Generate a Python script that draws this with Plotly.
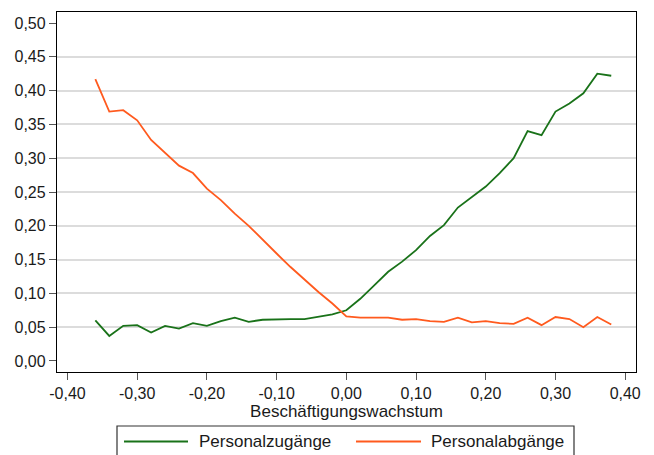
import plotly.graph_objects as go

x_vals = [-0.36, -0.34, -0.32, -0.30, -0.28, -0.26, -0.24, -0.22, -0.20, -0.18,
          -0.16, -0.14, -0.12, -0.10, -0.08, -0.06, -0.04, -0.02, 0.00, 0.02,
          0.04, 0.06, 0.08, 0.10, 0.12, 0.14, 0.16, 0.18, 0.20, 0.22,
          0.24, 0.26, 0.28, 0.30, 0.32, 0.34, 0.36, 0.38]

zugaenge = [0.060, 0.037, 0.052, 0.053, 0.042, 0.052, 0.048, 0.056, 0.052, 0.059,
            0.064, 0.058, 0.061, 0.062, 0.062, 0.062, 0.065, 0.069, 0.075, 0.092,
            0.112, 0.132, 0.147, 0.164, 0.185, 0.201, 0.227, 0.242, 0.258, 0.278,
            0.300, 0.340, 0.334, 0.369, 0.381, 0.396, 0.425, 0.422]

abgaenge = [0.417, 0.369, 0.371, 0.356, 0.327, 0.308, 0.289, 0.278, 0.255, 0.238,
            0.218, 0.200, 0.179, 0.159, 0.139, 0.120, 0.102, 0.085, 0.066, 0.064,
            0.064, 0.064, 0.061, 0.062, 0.059, 0.058, 0.064, 0.057, 0.059, 0.056,
            0.055, 0.064, 0.053, 0.065, 0.062, 0.050, 0.065, 0.054]

series_names = ["Personalzugänge", "Personalabgänge"]
series_colors = ["#197219", "#ff5a1e"]

x_tickvals = [-0.40, -0.30, -0.20, -0.10, 0.00, 0.10, 0.20, 0.30, 0.40]
x_ticktext = ["-0,40", "-0,30", "-0,20", "-0,10", "0,00", "0,10", "0,20", "0,30", "0,40"]
y_tickvals = [0.00, 0.05, 0.10, 0.15, 0.20, 0.25, 0.30, 0.35, 0.40, 0.45, 0.50]
y_ticktext = ["0,00", "0,05", "0,10", "0,15", "0,20", "0,25", "0,30", "0,35", "0,40", "0,45", "0,50"]
y_gridvals = [0.05, 0.10, 0.15, 0.20, 0.25, 0.30, 0.35, 0.40, 0.45]
x_title = "Beschäftigungswachstum"

FONT = "Liberation Sans, Arial, sans-serif"
FS = 16
FS_BIG = 17
x_range = [-0.415, 0.4155]
y_range = [-0.0163, 0.5163]

fig = go.Figure()
for name, ys, col in zip(series_names, [zugaenge, abgaenge], series_colors):
    fig.add_trace(go.Scatter(x=x_vals, y=ys, mode="lines", name=name,
                             line=dict(color=col, width=1.8),
                             showlegend=False))

# The page body has an 8px margin: the figure is sized so that it ends at the window edge.
fig.update_layout(
    width=646, height=447, autosize=False,
    margin=dict(l=49, r=18, t=4, b=83),
    paper_bgcolor="white", plot_bgcolor="white",
    font=dict(family=FONT, size=FS, color="#1a1a1a"),
    xaxis=dict(range=x_range, tickvals=x_tickvals, ticktext=x_ticktext,
               showgrid=False, zeroline=False, showline=True, mirror=True,
               linecolor="black", linewidth=1.3, ticks="outside", ticklen=7,
               tickcolor="#555", tickwidth=1.2,
               title=dict(text=x_title, font=dict(size=FS_BIG), standoff=2)),
    yaxis=dict(range=y_range, tickvals=y_tickvals, ticktext=y_ticktext,
               showgrid=False, zeroline=False, showline=True, mirror=True,
               linecolor="black", linewidth=1.3, ticks="outside", ticklen=7,
               tickcolor="#555", tickwidth=1.2,
               minor=dict(tickmode="array", tickvals=y_gridvals, showgrid=True,
                          gridcolor="#dcdcdc", gridwidth=1.6, ticks="")),
)

# legend drawn as a box below the plot (page-pixel positions converted to paper units)
x0p, x1p = 57.0, 636.0
y0p, y1p = 12.0, 372.0
def px_x(p):
    return (p - x0p) / (x1p - x0p)
def px_y(p):
    return (y1p - p) / (y1p - y0p)

fig.add_shape(type="rect", xref="paper", yref="paper",
              x0=px_x(117), x1=px_x(574), y0=px_y(426), y1=px_y(470),
              line=dict(color="#333", width=1.2), fillcolor="white", layer="above")
legend_pos = [(124, 188, 197), (356, 421, 429)]
for (lx0, lx1, tx), name, col in zip(legend_pos, series_names, series_colors):
    fig.add_shape(type="line", xref="paper", yref="paper",
                  x0=px_x(lx0), x1=px_x(lx1), y0=px_y(441.5), y1=px_y(441.5),
                  line=dict(color=col, width=2))
    fig.add_annotation(xref="paper", yref="paper", x=px_x(tx), y=px_y(441.5),
                       text=name, showarrow=False, xanchor="left", yanchor="middle",
                       font=dict(size=FS_BIG, family=FONT, color="#1a1a1a"))

fig.write_html("out.html")
